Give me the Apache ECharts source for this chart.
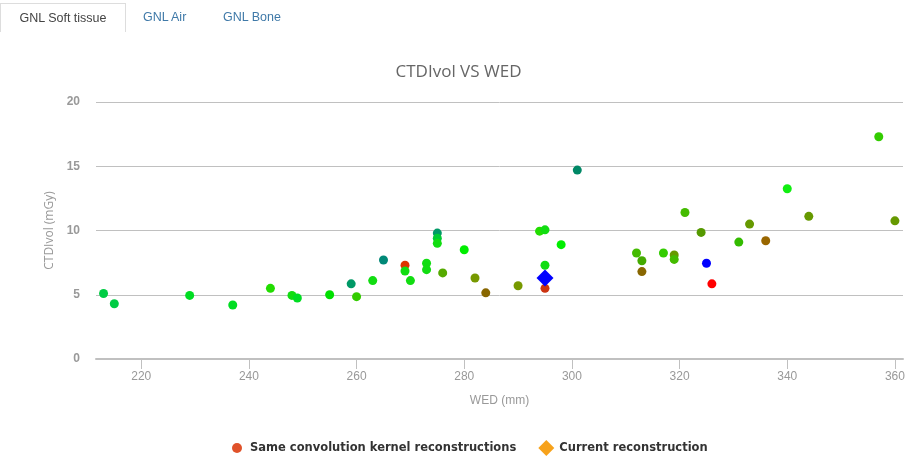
<!DOCTYPE html>
<html>
<head>
<meta charset="utf-8">
<script src="https://cdn.jsdelivr.net/npm/echarts@6/dist/echarts.min.js"></script>
<style>
  body { margin: 0; background: #fff; font-family: "Liberation Sans", Arial, sans-serif; }
  .tabs { position: absolute; left: 0; top: 3px; height: 28px; width: 917px; }
  .tab { position: absolute; top: 0; height: 28px; line-height: 28px; font-size: 12.5px; color: #3f79a8; }
  .tab.active { left: 0; width: 124px; border: 1px solid #ddd; border-bottom: none; color: #444; text-align: center; background: #fff; }
  #main { position: absolute; left: 0; top: 0; width: 917px; height: 456px; }
</style>
</head>
<body>
<div id="main"></div>
<div class="tabs">
  <div class="tab active">GNL Soft tissue</div>
  <div class="tab" style="left:143px">GNL Air</div>
  <div class="tab" style="left:223px">GNL Bone</div>
</div>
<script type="text/javascript">
    // 数据: WED (mm) / CTDIvol (mGy)
    var wed = [213, 215, 229, 237, 244, 248, 249, 255, 259, 260, 263, 265, 269, 269, 270, 273, 273, 275, 275, 275,
               276, 280, 282, 284, 290, 294, 295, 295, 295, 298, 301, 312, 313, 313, 317, 319, 319, 321, 324, 325,
               326, 331, 333, 336, 340, 344, 357, 360];
    var ctdi = [5.1, 4.3, 4.95, 4.2, 5.5, 4.95, 4.75, 5.0, 5.85, 4.85, 6.1, 7.7, 7.3, 6.85, 6.1, 7.45, 6.95, 9.8, 9.4, 9.0,
                6.7, 8.5, 6.3, 5.15, 5.7, 9.95, 10.05, 7.3, 5.5, 8.9, 14.7, 8.25, 7.65, 6.8, 8.25, 8.1, 7.75, 11.4, 9.85, 7.45,
                5.85, 9.1, 10.5, 9.2, 13.25, 11.1, 17.3, 10.75];
    var pointColors = ['#00cc44', '#00cc44', '#00dd22', '#00dd22', '#22dd00', '#11dd11', '#00dd22', '#00e000', '#009966', '#33cc00',
                       '#11dd11', '#008877', '#dd3300', '#11dd11', '#11dd11', '#11dd11', '#11dd11', '#009966', '#00cc33', '#11dd11',
                       '#55aa00', '#00ee00', '#779900', '#886600', '#779900', '#22dd00', '#11dd11', '#11dd11', '#cc3311', '#00ee00',
                       '#008866', '#44bb00', '#44aa00', '#886600', '#33cc00', '#669900', '#44bb00', '#44bb00', '#559900', '#0000ff',
                       '#ff0000', '#33bb00', '#669900', '#996600', '#11ee11', '#669900', '#33cc00', '#669900'];
    var currentWed = [295];
    var currentCtdi = [6.3];
    var xTicks = [220, 240, 260, 280, 300, 320, 340, 360];

    var sameData = wed.map(function (w, i) {
        return { value: [w, ctdi[i]], itemStyle: { color: pointColors[i] } };
    });
    var currentData = currentWed.map(function (w, i) {
        return { value: [w, currentCtdi[i]], itemStyle: { color: '#0000ff' } };
    });

    var myChart = echarts.init(document.getElementById('main'));
    var axisFont = '"Liberation Sans Narrow", "Liberation Sans", sans-serif';

    var option = {
        animation: false,
        title: {
            text: 'CTDIvol VS WED',
            left: 'center',
            top: 59,
            textStyle: { fontFamily: '"Open Sans", sans-serif', fontSize: 17, fontWeight: 'normal', color: '#666' }
        },
        legend: {
            top: 435,
            left: 224,
            itemWidth: 16,
            itemHeight: 16,
            itemGap: 22,
            textStyle: { fontFamily: '"DejaVu Sans", sans-serif', fontSize: 11.5, fontWeight: 'bold', color: '#333' },
            data: [
                { name: 'Same convolution kernel reconstructions',
                  icon: 'path://M0,0L0,0M16,16L16,16M3,8A5,5 0 1,0 13,8A5,5 0 1,0 3,8Z',
                  itemStyle: { color: '#e0522a' } },
                { name: 'Current reconstruction', icon: 'diamond', itemStyle: { color: '#f7a21b' } }
            ]
        },
        grid: { left: 96, right: 14, top: 102, bottom: 97 },
        xAxis: {
            type: 'value',
            min: 211.6,
            max: 361.5,
            name: 'WED (mm)',
            nameLocation: 'middle',
            nameGap: 36,
            nameTextStyle: { fontFamily: axisFont, fontSize: 12, color: '#999' },
            axisLine: { lineStyle: { color: '#c0c0c0', width: 2 } },
            axisTick: { show: true, length: 10, customValues: xTicks, lineStyle: { color: '#c0c0c0' } },
            axisLabel: { customValues: xTicks, margin: 12, fontFamily: axisFont, fontSize: 12, color: '#999' },
            splitLine: { show: false }
        },
        yAxis: {
            type: 'value',
            min: 0,
            max: 20,
            interval: 5,
            name: 'CTDIvol (mGy)',
            nameLocation: 'middle',
            nameGap: 40,
            nameTextStyle: { fontFamily: '"Open Sans", sans-serif', fontSize: 12, color: '#999' },
            axisLine: { show: false },
            axisTick: { show: false },
            axisLabel: { margin: 16, fontFamily: axisFont, fontSize: 12, fontWeight: 'bold', color: '#999' },
            splitLine: { lineStyle: { color: '#c0c0c0' } }
        },
        series: [
            {
                name: 'Same convolution kernel reconstructions',
                type: 'scatter',
                symbol: 'circle',
                symbolSize: 9,
                itemStyle: { color: '#e0522a', opacity: 1 },
                data: sameData
            },
            {
                name: 'Current reconstruction',
                type: 'scatter',
                symbol: 'diamond',
                symbolSize: 17,
                itemStyle: { color: '#f7a21b', opacity: 1 },
                data: currentData,
                z: 3
            }
        ]
    };

    myChart.setOption(option);
</script>
</body>
</html>
